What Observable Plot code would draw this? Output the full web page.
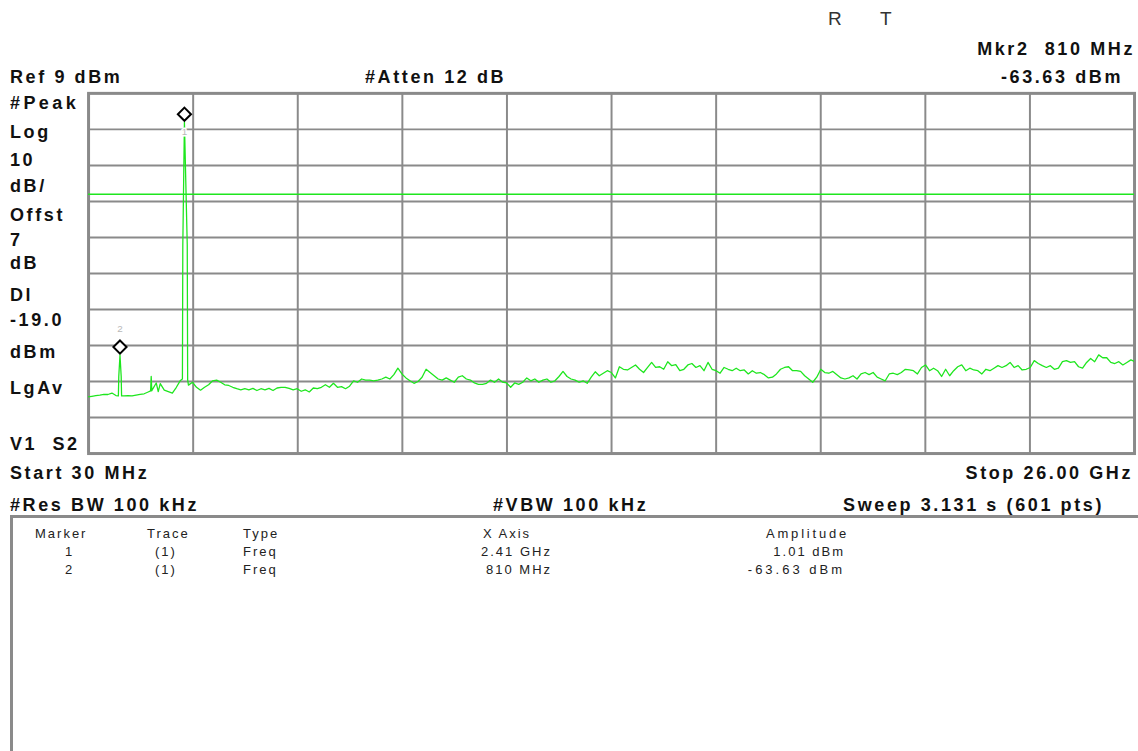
<!DOCTYPE html>
<html><head><meta charset="utf-8">
<script src="https://cdn.jsdelivr.net/npm/d3@7"></script>
<script src="https://cdn.jsdelivr.net/npm/@observablehq/plot@0.6"></script>
<style>
html,body{margin:0;padding:0;background:#fff;overflow:hidden;width:1138px;height:751px;}
#page{position:relative;width:1138px;height:751px;overflow:hidden;font-family:"Liberation Sans",Arial,sans-serif;color:#111;}
.b{position:absolute;font-weight:bold;font-size:18px;line-height:18px;letter-spacing:2.6px;white-space:pre;}
.t{position:absolute;font-size:13px;line-height:13px;letter-spacing:2px;white-space:pre;color:#222;}
.thin{position:absolute;font-size:19px;line-height:19px;white-space:pre;color:#333;}
#chart{position:absolute;left:0;top:80px;}
#box{position:absolute;left:10px;top:515px;width:1200px;height:300px;border-top:3px solid #8a8a8a;border-left:3px solid #8a8a8a;}
</style></head>
<body>
<div id="page">
  <div class="thin" style="left:828px;top:9px;">R</div>
  <div class="thin" style="left:880px;top:9px;">T</div>
  <div class="b" style="right:3px;top:40px;">Mkr2  810 MHz</div>
  <div class="b" style="left:10px;top:68px;">Ref 9 dBm</div>
  <div class="b" style="left:365px;top:68px;">#Atten 12 dB</div>
  <div class="b" style="right:15px;top:68px;">-63.63 dBm</div>

  <div class="b" style="left:10px;top:94px;letter-spacing:3.4px;">#Peak</div>
  <div class="b" style="left:10px;top:123px;">Log</div>
  <div class="b" style="left:10px;top:151px;">10</div>
  <div class="b" style="left:10px;top:177px;">dB/</div>
  <div class="b" style="left:10px;top:206px;">Offst</div>
  <div class="b" style="left:10px;top:231px;">7</div>
  <div class="b" style="left:10px;top:254px;">dB</div>
  <div class="b" style="left:10px;top:286px;">Dl</div>
  <div class="b" style="left:10px;top:311px;">-19.0</div>
  <div class="b" style="left:10px;top:343px;">dBm</div>
  <div class="b" style="left:10px;top:379px;">LgAv</div>
  <div class="b" style="left:10px;top:435px;">V1  S2</div>

  <div class="b" style="left:10px;top:464px;">Start 30 MHz</div>
  <div class="b" style="right:5px;top:464px;">Stop 26.00 GHz</div>
  <div class="b" style="left:10px;top:496px;">#Res BW 100 kHz</div>
  <div class="b" style="left:493px;top:496px;">#VBW 100 kHz</div>
  <div class="b" style="right:34px;top:496px;">Sweep 3.131 s (601 pts)</div>

  <div id="box"></div>
  <div class="t" style="left:35px;top:527px;">Marker</div>
  <div class="t" style="left:147px;top:527px;">Trace</div>
  <div class="t" style="left:243px;top:527px;">Type</div>
  <div class="t" style="left:483px;top:527px;">X Axis</div>
  <div class="t" style="left:766px;top:527px;letter-spacing:2.8px;">Amplitude</div>
  <div class="t" style="left:65px;top:545px;">1</div>
  <div class="t" style="left:155px;top:545px;">(1)</div>
  <div class="t" style="left:243px;top:545px;">Freq</div>
  <div class="t" style="left:481px;top:545px;">2.41 GHz</div>
  <div class="t" style="right:293px;top:545px;">1.01 dBm</div>
  <div class="t" style="left:65px;top:563px;">2</div>
  <div class="t" style="left:155px;top:563px;">(1)</div>
  <div class="t" style="left:243px;top:563px;">Freq</div>
  <div class="t" style="left:486px;top:563px;">810 MHz</div>
  <div class="t" style="right:293px;top:563px;letter-spacing:3px;">-63.63 dBm</div>

  <div id="chart"></div>
</div>
<script>
// Sweep settings
const startGHz = 0.03;
const stopGHz = 26.0;
const refLevelDbm = 9;
const bottomLevelDbm = -91;
const displayLineDbm = -19.0;

// Grid divisions (10 x 10)
const xDivisionsGHz = [0.03, 2.627, 5.224, 7.821, 10.418, 13.015, 15.612, 18.209, 20.806, 23.403, 26.0];
const yDivisionsDbm = [9, -1, -11, -21, -31, -41, -51, -61, -71, -81, -91];

const traceStartGHz = 0.01;
const traceStepGHz = 0.1;
const traceLevelsDbm = [
  -75.3,-75.1,-74.9,-74.8,-74.6,-74.6,-74.2,-74.9,-63.63,-75.0,
  -74.9,-75.0,-74.8,-74.6,-74.4,-73.9,-73.3,-71.4,-71.6,-73.4,
  -73.8,-74.2,-72.6,-70.7,1.01,-72.0,-71.2,-72.6,-73.4,-72.6,
  -71.9,-70.8,-70.6,-71.2,-71.9,-72.1,-72.6,-73.0,-73.3,-73.0,
  -73.3,-72.9,-73.5,-73.0,-73.3,-72.9,-73.5,-72.8,-72.6,-72.6,
  -72.9,-73.3,-73.0,-73.7,-73.3,-73.9,-72.8,-73.0,-72.6,-71.9,
  -72.6,-71.5,-72.6,-72.4,-73.0,-72.3,-70.8,-71.2,-70.3,-70.6,
  -70.6,-70.8,-70.6,-70.3,-69.8,-70.3,-69.1,-67.3,-68.9,-70.0,
  -70.8,-71.5,-71.0,-69.8,-67.6,-68.5,-69.4,-70.3,-70.6,-70.0,
  -70.6,-71.2,-69.8,-69.4,-70.3,-70.6,-71.4,-71.8,-71.8,-71.5,
  -70.6,-71.2,-70.3,-71.2,-71.4,-72.6,-71.4,-71.8,-71.2,-70.0,
  -70.8,-70.3,-71.2,-70.6,-70.3,-71.2,-70.8,-69.6,-68.2,-69.6,
  -70.3,-70.6,-71.2,-70.8,-71.5,-69.8,-68.3,-69.4,-68.7,-68.0,
  -68.5,-70.0,-66.9,-67.6,-67.8,-67.1,-66.4,-67.6,-68.5,-67.1,
  -65.7,-67.1,-66.9,-67.6,-65.5,-66.6,-66.3,-68.0,-67.6,-66.4,
  -66.0,-67.1,-66.6,-68.0,-65.7,-67.6,-68.0,-68.7,-67.1,-67.6,
  -68.0,-67.3,-68.0,-67.8,-68.9,-68.0,-68.7,-68.5,-69.1,-70.0,
  -69.8,-68.9,-67.6,-67.1,-66.9,-68.0,-68.0,-68.2,-69.4,-70.3,
  -71.2,-69.8,-67.6,-68.5,-68.7,-68.2,-69.1,-70.0,-70.3,-70.0,
  -69.4,-70.3,-68.9,-68.5,-69.1,-68.5,-69.8,-70.3,-70.8,-68.9,
  -68.7,-69.1,-68.5,-67.6,-67.8,-68.0,-68.9,-67.1,-66.4,-68.0,
  -67.3,-68.0,-69.6,-67.6,-69.4,-68.0,-66.9,-66.4,-68.0,-67.3,
  -67.8,-68.0,-68.9,-67.6,-68.0,-67.3,-66.6,-67.1,-66.6,-65.7,
  -67.1,-66.6,-67.8,-67.6,-67.1,-65.2,-66.0,-66.6,-67.1,-66.6,
  -67.6,-67.3,-65.5,-65.2,-65.7,-65.5,-66.9,-67.3,-65.7,-64.6,
  -65.5,-63.6,-64.4,-64.4,-65.7,-66.0,-65.5,-66.4,-65.7,-65.0,
  -65.5
];
// Extra trace points around the narrow spikes
const detailFreqGHz   = [0.77, 0.78, 0.84, 0.85, 1.57, 1.585, 1.60, 1.76, 2.36, 2.37, 2.48, 2.49];
const detailLevelsDbm = [-75.0, -69.6, -69.6, -75.0, -73.6, -69.6, -73.6, -73.8, -70.3, -33.0, -33.0, -70.5];

// Markers
const markerNames = ["1", "2"];
const markerFreqGHz = [2.41, 0.81];
const markerLevelDbm = [1.01, -63.63];

const trace = traceLevelsDbm.map((a, i) => ({f: traceStartGHz + i * traceStepGHz, a}))
  .concat(detailFreqGHz.map((f, i) => ({f, a: detailLevelsDbm[i]})))
  .sort((p, q) => p.f - q.f);
const markers = markerNames.map((name, i) => ({name, f: markerFreqGHz[i], a: markerLevelDbm[i]}));

const green = "#1ee61e";
const grid = "#8a8a8a";

const chart = Plot.plot({
  width: 1150,
  height: 380,
  marginLeft: 89,
  marginRight: 4,
  marginTop: 13,
  marginBottom: 3,
  x: {domain: [startGHz, stopGHz], axis: null},
  y: {domain: [bottomLevelDbm, refLevelDbm], axis: null},
  style: {background: "transparent", overflow: "visible"},
  marks: [
    Plot.ruleX(xDivisionsGHz, {stroke: grid, strokeWidth: 2}),
    Plot.ruleY(yDivisionsDbm, {stroke: grid, strokeWidth: 2}),
    Plot.frame({stroke: grid, strokeWidth: 3}),
    Plot.ruleY([displayLineDbm], {stroke: green, strokeWidth: 1.5}),
    Plot.line(trace, {x: "f", y: "a", stroke: green, strokeWidth: 1.3, clip: true}),
    Plot.text(markers.filter(d => d.name === "1"), {x: "f", y: "a", text: "name", dy: 10, fill: "#b8b8b8", stroke: "white", strokeWidth: 3, fontSize: 10, fontFamily: "Liberation Sans"}),
    Plot.text(markers.filter(d => d.name === "2"), {x: "f", y: "a", text: "name", dy: -26, fill: "#b8b8b8", fontSize: 10, fontFamily: "Liberation Sans"}),
    Plot.dot(markers, {x: "f", y: "a", symbol: "diamond2", r: 6, stroke: "black", strokeWidth: 2, fill: "white", dy: -8})
  ]
});
document.getElementById("chart").appendChild(chart);
</script>
</body></html>
